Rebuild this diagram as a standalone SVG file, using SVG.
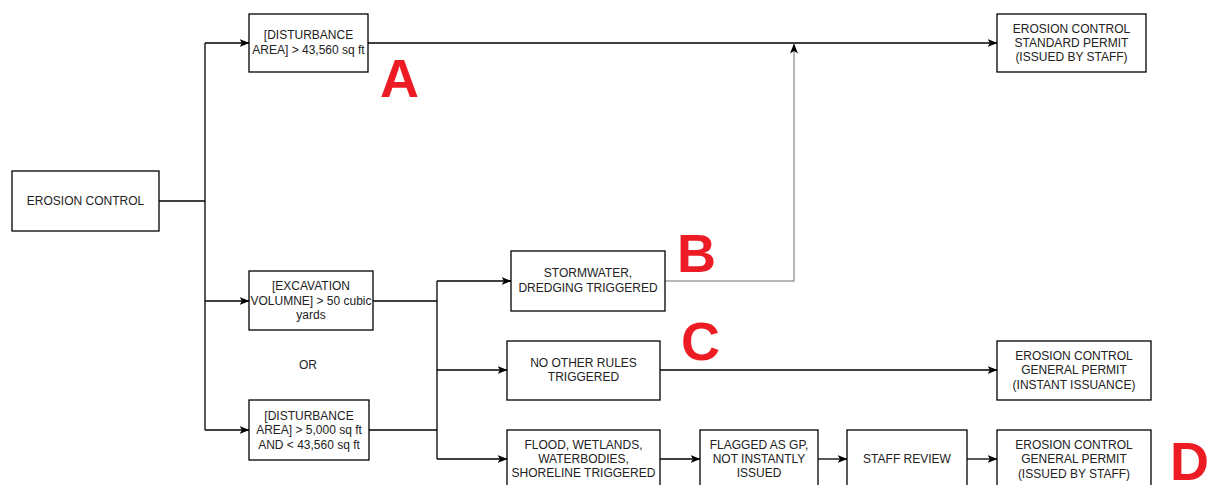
<svg xmlns="http://www.w3.org/2000/svg" width="1210" height="485" viewBox="0 0 1210 485">
<defs>
<marker id="arr" viewBox="0 0 10 8" refX="9.5" refY="4" markerWidth="10" markerHeight="8" markerUnits="userSpaceOnUse" orient="auto">
<path d="M0,0 L10,4 L0,8 L2.5,4 z" fill="#000"/>
</marker>
<style>
.box{fill:#fff;stroke:#000;stroke-width:1.3}
.t{font-family:"Liberation Sans",Arial,sans-serif;font-size:12px;fill:#222;text-anchor:middle}
.c{fill:none;stroke:#000;stroke-width:1.3}
.g{fill:none;stroke:#a0a0a0;stroke-width:1.5}
.big{font-family:"Liberation Sans",Arial,sans-serif;font-size:54px;font-weight:bold;fill:#ed1c24}
</style>
</defs>
<rect width="1210" height="485" fill="#fff"/>
<g id="connectors">
<path class="c" d="M159,201 H205"/>
<path class="c" d="M205,43 V430"/>
<path class="c" d="M205,43 H249" marker-end="url(#arr)"/>
<path class="c" d="M205,301 H249" marker-end="url(#arr)"/>
<path class="c" d="M205,430 H249" marker-end="url(#arr)"/>
<path class="c" d="M368,43 H997" marker-end="url(#arr)"/>
<path class="c" d="M373,301 H437"/>
<path class="c" d="M369,430 H437"/>
<path class="c" d="M437,281 V459"/>
<path class="c" d="M437,281 H511" marker-end="url(#arr)"/>
<path class="c" d="M437,370 H507" marker-end="url(#arr)"/>
<path class="c" d="M437,459 H507" marker-end="url(#arr)"/>
<path class="g" d="M665,281 H794 V44" marker-end="url(#arr)"/>
<path class="c" d="M660,370 H997" marker-end="url(#arr)"/>
<path class="c" d="M660,459 H700" marker-end="url(#arr)"/>
<path class="c" d="M818,459 H847" marker-end="url(#arr)"/>
<path class="c" d="M967,459 H997" marker-end="url(#arr)"/>
</g>
<g id="erosion-control">
<rect class="box" x="12" y="171" width="147" height="60"/>
<text class="t" x="85.5" y="205">EROSION CONTROL</text>
</g>
<g id="disturbance-large">
<rect class="box" x="249" y="14" width="119" height="58"/>
<text class="t" x="308.5" y="39">[DISTURBANCE</text>
<text class="t" x="308.5" y="54">AREA] &gt; 43,560 sq ft</text>
</g>
<g id="excavation">
<rect class="box" x="249" y="271" width="124" height="59"/>
<text class="t" x="311" y="290">[EXCAVATION</text>
<text class="t" x="311" y="305">VOLUMNE] &gt; 50 cubic</text>
<text class="t" x="311" y="319">yards</text>
</g>
<g id="or-label">
<text class="t" x="308" y="369">OR</text>
</g>
<g id="disturbance-mid">
<rect class="box" x="249" y="400" width="120" height="60"/>
<text class="t" x="309" y="420">[DISTURBANCE</text>
<text class="t" x="309" y="434">AREA] &gt; 5,000 sq ft</text>
<text class="t" x="309" y="449">AND &lt; 43,560 sq ft</text>
</g>
<g id="stormwater">
<rect class="box" x="511" y="251" width="154" height="60"/>
<text class="t" x="588" y="277">STORMWATER,</text>
<text class="t" x="588" y="292">DREDGING TRIGGERED</text>
</g>
<g id="no-other">
<rect class="box" x="507" y="341" width="153" height="59"/>
<text class="t" x="583.5" y="367">NO OTHER RULES</text>
<text class="t" x="583.5" y="381">TRIGGERED</text>
</g>
<g id="flood">
<rect class="box" x="507" y="430" width="153" height="60"/>
<text class="t" x="583.5" y="449">FLOOD, WETLANDS,</text>
<text class="t" x="583.5" y="463">WATERBODIES,</text>
<text class="t" x="583.5" y="477">SHORELINE TRIGGERED</text>
</g>
<g id="flagged">
<rect class="box" x="700" y="430" width="118" height="60"/>
<text class="t" x="759" y="449">FLAGGED AS GP,</text>
<text class="t" x="759" y="463">NOT INSTANTLY</text>
<text class="t" x="759" y="477">ISSUED</text>
</g>
<g id="staff-review">
<rect class="box" x="847" y="430" width="120" height="60"/>
<text class="t" x="907" y="463">STAFF REVIEW</text>
</g>
<g id="standard-permit">
<rect class="box" x="997" y="14" width="149" height="58"/>
<text class="t" x="1071.5" y="33">EROSION CONTROL</text>
<text class="t" x="1071.5" y="47">STANDARD PERMIT</text>
<text class="t" x="1071.5" y="61">(ISSUED BY STAFF)</text>
</g>
<g id="general-instant">
<rect class="box" x="997" y="341" width="154" height="59"/>
<text class="t" x="1074" y="360">EROSION CONTROL</text>
<text class="t" x="1074" y="374">GENERAL PERMIT</text>
<text class="t" x="1074" y="389">(INSTANT ISSUANCE)</text>
</g>
<g id="general-staff">
<rect class="box" x="997" y="430" width="154" height="60"/>
<text class="t" x="1074" y="449">EROSION CONTROL</text>
<text class="t" x="1074" y="463">GENERAL PERMIT</text>
<text class="t" x="1074" y="478">(ISSUED BY STAFF)</text>
</g>
<g id="labels">
<text class="big" x="380" y="97">A</text>
<text class="big" x="677" y="272">B</text>
<text class="big" x="681" y="360">C</text>
<text class="big" x="1170" y="480" font-size="52">D</text>
</g>
</svg>
